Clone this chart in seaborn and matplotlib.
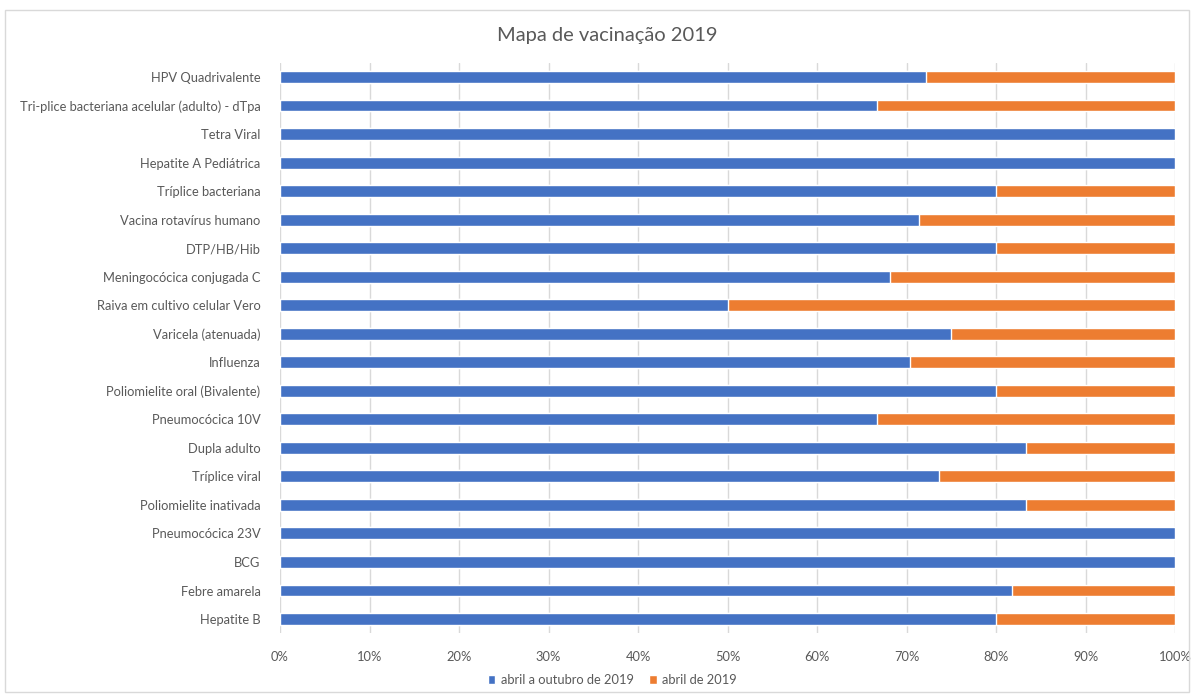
import matplotlib
matplotlib.use("Agg")
import matplotlib.pyplot as plt
from matplotlib.patches import Rectangle, Patch
from matplotlib.ticker import PercentFormatter
import seaborn as sns
import pandas as pd

vacinas = [
    "HPV Quadrivalente",
    "Tri-plice bacteriana acelular (adulto) - dTpa",
    "Tetra Viral",
    "Hepatite A Pediátrica",
    "Tríplice bacteriana",
    "Vacina rotavírus humano",
    "DTP/HB/Hib",
    "Meningocócica conjugada C",
    "Raiva em cultivo celular Vero",
    "Varicela (atenuada)",
    "Influenza",
    "Poliomielite oral (Bivalente)",
    "Pneumocócica 10V",
    "Dupla adulto",
    "Tríplice viral",
    "Poliomielite inativada",
    "Pneumocócica 23V",
    "BCG",
    "Febre amarela",
    "Hepatite B",
]
# share (%) of each vaccine per period
abril_outubro = [72.2, 66.7, 100, 100, 80.0, 71.4, 80.0, 68.2, 50.0, 75.0,
                 70.4, 80.0, 66.7, 83.3, 73.6, 83.3, 100, 100, 81.8, 80.0]
abril = [27.8, 33.3, 0, 0, 20.0, 28.6, 20.0, 31.8, 50.0, 25.0,
         29.6, 20.0, 33.3, 16.7, 26.4, 16.7, 0, 0, 18.2, 20.0]

serie_1 = "abril a outubro de 2019"
serie_2 = "abril de 2019"
azul = "#4472C4"
laranja = "#ED7D31"
cinza = "#595959"

df = pd.DataFrame({"vacina": vacinas, "s1": abril_outubro, "s2": abril})
df["total"] = df["s1"] + df["s2"]

sns.set_theme(style="white")
plt.rcParams["font.family"] = ["Lato", "DejaVu Sans"]

fig = plt.figure(figsize=(11.92, 6.94), dpi=100)
ax = fig.add_axes([280 / 1192, 1 - 633.3 / 694, 895 / 1192, 570.6 / 694])

# stacked bars: full-length orange underneath, blue share on top
sns.barplot(data=df, y="vacina", x="total", color=laranja, orient="h",
            width=0.42, saturation=1, ax=ax, zorder=2)
sns.barplot(data=df, y="vacina", x="s1", color=azul, orient="h",
            width=0.42, saturation=1, ax=ax, zorder=3)

ax.set_xlim(0, 100)
ax.set_xticks(range(0, 101, 10))
ax.xaxis.set_major_formatter(PercentFormatter(decimals=0))
ax.grid(axis="x", color="#d9d9d9", linewidth=1, zorder=0)
ax.set_axisbelow(True)
for s in ax.spines.values():
    s.set_visible(False)
ax.set_xlabel("")
ax.set_ylabel("")
ax.tick_params(axis="x", length=0, pad=13, labelsize=9.3, labelcolor=cinza)
ax.tick_params(axis="y", length=0, pad=14, labelsize=9.3, labelcolor=cinza)

fig.text(607 / 1192, 1 - 35 / 694, "Mapa de vacinação 2019", ha="center",
         va="center", fontsize=14.5, color=cinza)

handles = [Patch(facecolor=azul), Patch(facecolor=laranja)]
fig.legend(handles, [serie_1, serie_2], loc="center",
           bbox_to_anchor=(612 / 1192, 1 - 680 / 694), ncol=2, frameon=False,
           fontsize=9.3, labelcolor=cinza, handlelength=0.6, handleheight=0.6,
           handletextpad=0.4, columnspacing=1.2)

fig.patches.append(Rectangle((5 / 1192, 2 / 694), 1184 / 1192, 682 / 694,
                             transform=fig.transFigure, fill=False,
                             edgecolor="#d9d9d9", linewidth=1))

fig.savefig("out.png", dpi=100, facecolor="white")
